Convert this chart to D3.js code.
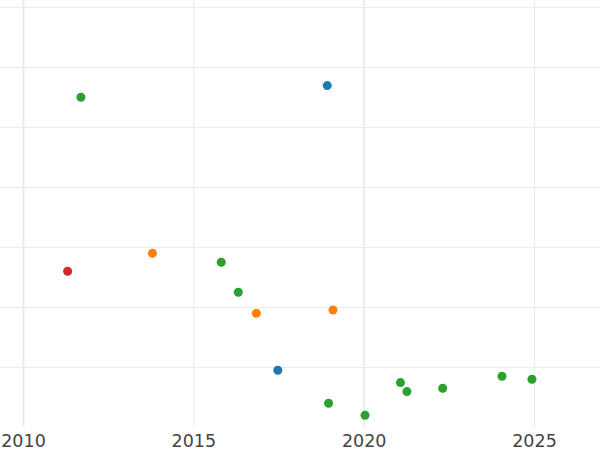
<!DOCTYPE html>
<html>
<head>
<meta charset="utf-8">
<script src="https://cdn.jsdelivr.net/npm/d3@7"></script>
<style>
html,body{margin:0;padding:0;background:#fff;}
svg{display:block;}
</style>
</head>
<body>
<svg id="chart" width="600" height="450"></svg>
<script>
const years  = [2011.70, 2018.93, 2013.80, 2011.31, 2015.82, 2016.32, 2016.85, 2019.10, 2017.48, 2018.97, 2020.04, 2021.08, 2021.27, 2022.32, 2024.06, 2024.94];
const values = [5.495, 5.69, 2.895, 2.595, 2.745, 2.245, 1.895, 1.95, 0.945, 0.395, 0.195, 0.74, 0.59, 0.645, 0.845, 0.795];
const groups = ["C", "A", "B", "D", "C", "C", "B", "B", "A", "C", "C", "C", "C", "C", "C", "C"];
const groupNames = ["A", "B", "C", "D"];
const groupColors = ["#1f77b4", "#ff7f0e", "#2ca02c", "#d62728"];
const xTicks = [2010, 2015, 2020, 2025];
const xMinor = [2010, 2020];
const yTicks = [1, 2, 3, 4, 5, 6, 7];

const svg = d3.select("#chart");
const x = d3.scaleLinear().domain([2010, 2025]).range([23, 534]);
const y = d3.scaleLinear().domain([0, 7]).range([427, 7]);
const color = d3.scaleOrdinal().domain(groupNames).range(groupColors);

// horizontal grid
const yAxis = d3.axisLeft(y).tickValues(yTicks).tickSize(-600).tickFormat("");
const gy = svg.append("g").call(yAxis);
gy.select(".domain").remove();
gy.selectAll(".tick line").attr("stroke", "#ebebeb").attr("stroke-width", 1).attr("x1", 0).attr("x2", 600);

// vertical grid
const xAxis = d3.axisBottom(x).tickValues(xTicks).tickSize(-427).tickFormat(d3.format("d"));
const gx = svg.append("g").attr("transform", "translate(0,427)").call(xAxis);
gx.select(".domain").remove();
gx.selectAll(".tick line")
  .attr("stroke", "#ebebeb")
  .attr("stroke-width", d => xMinor.includes(d) ? 2 : 1);
gx.selectAll(".tick text")
  .attr("fill", "#444")
  .attr("font-family", "DejaVu Sans, sans-serif")
  .attr("font-size", 17.5)
  .attr("y", 20)
  .attr("dy", "0");

// points
const data = years.map((yr, i) => ({yr, v: values[i], g: groups[i]}));
svg.append("g").selectAll("circle").data(data).join("circle")
  .attr("cx", d => x(d.yr))
  .attr("cy", d => y(d.v))
  .attr("r", 4.5)
  .attr("fill", d => color(d.g));
</script>
</body>
</html>
